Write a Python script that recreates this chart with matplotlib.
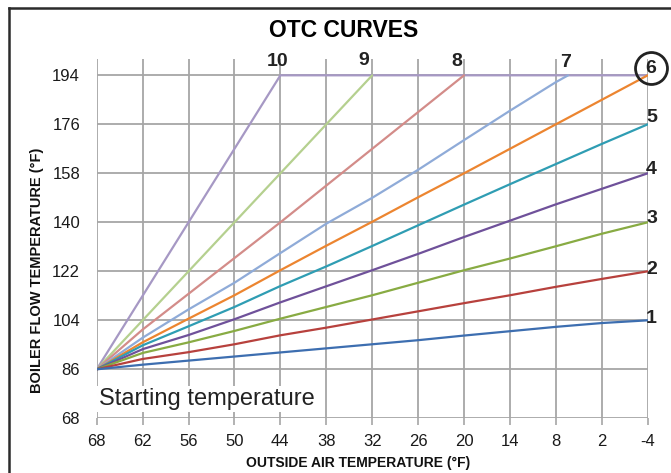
import matplotlib
matplotlib.use("Agg")
import matplotlib.pyplot as plt
from matplotlib.lines import Line2D

plt.rcParams['font.family'] = ['Liberation Sans', 'DejaVu Sans']
plt.rcParams['axes.unicode_minus'] = False

# outside air temperature (F), read every 6 degrees
oat = [68, 62, 56, 50, 44, 38, 32, 26, 20, 14, 8, 2, -4]

curve1 = [86, 87.7, 89.2, 90.7, 92.2, 93.7, 95.2, 96.7, 98.4, 100.0, 101.6, 103.0, 104]
curve2 = [86, 89.8, 92.3, 95.2, 98.5, 101.3, 104.3, 107.3, 110.3, 113.2, 116.3, 119.2, 122]
curve3 = [86, 92.0, 95.9, 100.1, 104.6, 108.9, 113.2, 117.8, 122.4, 126.7, 131.2, 135.8, 140]
curve4 = [86, 93.4, 98.6, 104.4, 110.6, 116.5, 122.4, 128.4, 134.6, 140.6, 146.6, 152.3, 158]
curve5 = [86, 94.8, 101.8, 108.9, 116.6, 123.8, 131.3, 138.9, 146.5, 154.0, 161.4, 168.8, 176]
curve6 = [86, 95.9, 104.6, 113.2, 122.4, 131.4, 140.2, 149.2, 158.0, 167.0, 176.0, 185.0, 194]

oat7 = [68, 62, 56, 50, 44, 38, 32, 26, 20, 14, 8, 6.4]
curve7 = [86, 97.6, 108.0, 117.8, 128.7, 139.5, 149.0, 159.3, 170.2, 181.0, 191.5, 194]
oat8 = [68, 62, 44, 20]
curve8 = [86, 100.6, 140, 194]
oat9 = [68, 62, 56, 50, 44, 32]
curve9 = [86, 104, 122, 140, 158, 194]
oat10 = [68, 56, 44, -4]
curve10 = [86, 140, 194, 194]

curves = [
    ("1", oat, curve1, '#3d6eb0'),
    ("2", oat, curve2, '#b7413d'),
    ("3", oat, curve3, '#88ab43'),
    ("4", oat, curve4, '#6f519a'),
    ("5", oat, curve5, '#2f9db3'),
    ("6", oat, curve6, '#ec8530'),
    ("7", oat7, curve7, '#8fabd8'),
    ("8", oat8, curve8, '#d38c89'),
    ("9", oat9, curve9, '#b5d08f'),
    ("10", oat10, curve10, '#a698c4'),
]

# curve number labels (x, y)
label_pos = {
    "10": (44.4, 199.0), "9": (33.1, 199.5), "8": (21.0, 199.0), "7": (6.8, 198.8),
    "6": (-4.4, 196.6), "5": (-4.5, 178.6), "4": (-4.5, 159.5), "3": (-4.5, 141.5),
    "2": (-4.5, 122.8), "1": (-4.4, 104.8),
}

x_ticks = [68, 62, 56, 50, 44, 38, 32, 26, 20, 14, 8, 2, -4]
y_ticks = [68, 86, 104, 122, 140, 158, 176, 194]

grid_col = '#a6a6a6'

fig = plt.figure(figsize=(6.71, 4.73), dpi=100)
ax = fig.add_axes([0.1441, 0.1156, 0.8212, 0.7597])

for name, xs, ys, col in curves[::-1]:
    ax.plot(xs, ys, color=col, lw=1.6, solid_capstyle='round', zorder=3)

for name, (lx, ly) in label_pos.items():
    ax.text(lx, ly, name, fontsize=14, fontweight='bold', color='#222222',
            ha='center', va='center', zorder=5, clip_on=False)

# circle round the recommended curve
ax.plot([-4.4], [196.6], marker='o', ms=23, mfc='none', mec='#222222',
        mew=2, clip_on=False, zorder=6)

ax.set_xlim(68, -4)
ax.set_ylim(68, 200)
ax.set_xticks(x_ticks)
ax.set_xticklabels([str(v) for v in x_ticks])
ax.set_yticks(y_ticks)
ax.set_yticklabels([str(v) for v in y_ticks])
ax.tick_params(axis='x', length=5, width=1.2, color=grid_col, pad=6,
               labelsize=12, labelcolor='#1a1a1a')
ax.tick_params(axis='y', length=0, pad=12, labelsize=12, labelcolor='#1a1a1a')
for s in ax.spines.values():
    s.set_visible(False)
ax.grid(True, color=grid_col, lw=1.3)
ax.set_axisbelow(True)

ax.text(67.75, 72.9, "Starting temperature", fontsize=17, color='#222222',
        ha='left', va='baseline', zorder=4,
        bbox=dict(boxstyle='square,pad=0.08', facecolor='white', edgecolor='none'))

fig.text(343.5 / 671, 1 - 30.5 / 473, "OTC CURVES", fontsize=16.5,
         fontweight='bold', ha='center', va='center')
fig.text(358 / 671, 1 - 463 / 473, "OUTSIDE AIR TEMPERATURE (°F)", fontsize=10,
         fontweight='bold', ha='center', va='center', color='#111111')
fig.text(37.5 / 671, 1 - 270 / 473, "BOILER FLOW TEMPERATURE (°F)", fontsize=10.5,
         fontweight='bold', ha='center', va='center', rotation=90, color='#111111')

# frame round the picture (cut at right and bottom)
fig.add_artist(Line2D([8.5 / 671, 8.5 / 671], [0, 1 - 8.5 / 473],
                      transform=fig.transFigure, color='#2b2b2b', lw=1.8))
fig.add_artist(Line2D([8.5 / 671, 1], [1 - 8.5 / 473, 1 - 8.5 / 473],
                      transform=fig.transFigure, color='#2b2b2b', lw=1.8))

fig.savefig("out.png", dpi=100)
